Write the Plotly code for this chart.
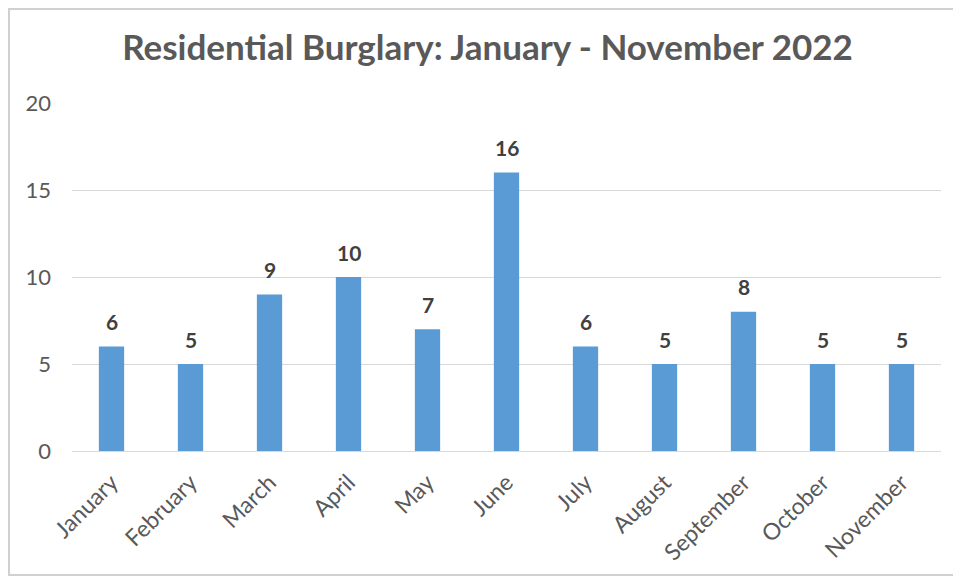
import plotly.graph_objects as go

months = ["January", "February", "March", "April", "May", "June", "July",
          "August", "September", "October", "November"]
counts = [6, 5, 9, 10, 7, 16, 6, 5, 8, 5, 5]
y_ticks = [0, 5, 10, 15, 20]

# page body adds an 8px offset; figure coordinates below are screen minus 8
W, H = 953, 569
L, R, T, B = 64, 20, 95, 126
pw, ph = W - L - R, H - T - B
FONT = "Lato, Carlito, Calibri, sans-serif"

fig = go.Figure(go.Bar(
    x=months, y=counts, width=0.32,
    marker=dict(color="#5B9BD5", line=dict(width=0)),
    hoverinfo="x+y",
))

for m, c in zip(months, counts):
    fig.add_annotation(x=m, y=c, text=f"<b>{c}</b>", showarrow=False,
                       yshift=25, yanchor="middle",
                       font=dict(family=FONT, size=21, color="#404040"))

fig.update_layout(
    width=W, height=H,
    margin=dict(l=L, r=R, t=T, b=B, autoexpand=False),
    paper_bgcolor="white", plot_bgcolor="white",
    showlegend=False,
    title=dict(text="<b>Residential Burglary: January - November 2022</b>",
               x=479.5 / W, xanchor="center", y=1 - 40 / H, yanchor="middle",
               font=dict(family=FONT, size=35, color="#595959")),
    font=dict(family=FONT, color="#595959"),
)
fig.update_xaxes(tickangle=-45, tickfont=dict(size=23, color="#595959"),
                 showgrid=False, showline=True, linecolor="#D9D9D9", linewidth=1,
                 ticks="", automargin=False, ticklabelstandoff=8)
fig.update_yaxes(range=[0, 20], tickvals=y_ticks, tickfont=dict(size=22, color="#595959"),
                 showgrid=True, gridcolor="#D9D9D9", gridwidth=1, zeroline=False,
                 showline=False, ticks="", ticklabelstandoff=20, automargin=False)

fig.add_shape(type="rect", xref="paper", yref="paper",
              x0=(1 - L) / pw, x1=(950 - L) / pw,
              y0=(T + ph - 567) / ph, y1=(T + ph - 1) / ph,
              line=dict(color="#D0D0D0", width=2), fillcolor="rgba(0,0,0,0)", layer="below")

fig.write_html("out.html")
